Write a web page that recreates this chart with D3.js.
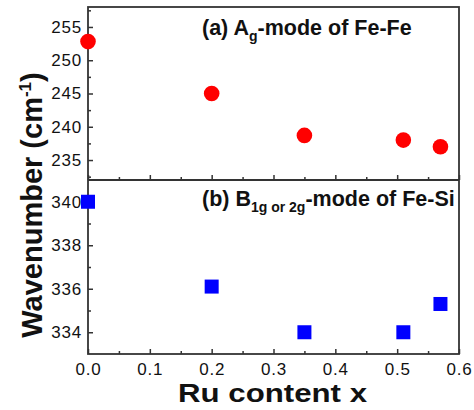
<!DOCTYPE html>
<html><head><meta charset="utf-8">
<script src="https://cdn.jsdelivr.net/npm/d3@7/dist/d3.min.js"></script>
<style>body{margin:0;background:#fff}svg{display:block}text{font-family:"Liberation Sans",Arial,sans-serif;fill:#111}</style>
</head><body><svg id="c" width="474" height="410"></svg>
<script>
const ruContent = [0.0, 0.2, 0.35, 0.51, 0.57];
const agFeFe = [252.8, 245.0, 238.7, 238.0, 237.0];
const bFeSi = [340.0, 336.1, 334.0, 334.0, 335.3];
const xTicks = [0.0, 0.1, 0.2, 0.3, 0.4, 0.5, 0.6];
const topTicks = [235, 240, 245, 250, 255];
const botTicks = [334, 336, 338, 340];

const svg = d3.select("#c");
const L = 88, R = 459, T = 7, M = 180, B = 354;
const axisColor = "#333";
const x = d3.scaleLinear().domain([0, 0.6]).range([L, R]);
const yTop = d3.scaleLinear().domain([232, 258]).range([M, T]);
const yBot = d3.scaleLinear().domain([333, 341]).range([B, M]);

function styleAxis(g){
  g.selectAll("path,line").attr("stroke", axisColor).attr("stroke-width", 1.5);
  g.selectAll("text").style("font-size","17px").style("letter-spacing","0.8px").attr("fill","#111");
}
// frame
svg.append("rect").attr("x",L).attr("y",T).attr("width",R-L).attr("height",B-T)
  .attr("fill","none").attr("stroke",axisColor).attr("stroke-width",1.8);
svg.append("line").attr("x1",L).attr("x2",R).attr("y1",M).attr("y2",M)
  .attr("stroke",axisColor).attr("stroke-width",1.8);

// x axis bottom
const xMinor = [0.05, 0.15, 0.25, 0.35, 0.45, 0.55];
svg.append("g").attr("transform",`translate(0,${B})`)
  .call(d3.axisBottom(x).tickValues(xMinor).tickSize(-3).tickFormat("")).call(styleAxis);
svg.append("g").attr("transform",`translate(0,${B})`)
  .call(d3.axisBottom(x).tickValues(xTicks).tickSize(-5).tickPadding(9).tickFormat(d3.format(".1f"))).call(styleAxis);
// x axis at mid (top panel bottom)
svg.append("g").attr("transform",`translate(0,${M})`)
  .call(d3.axisBottom(x).tickValues(xMinor).tickSize(-3).tickFormat("")).call(styleAxis);
svg.append("g").attr("transform",`translate(0,${M})`)
  .call(d3.axisBottom(x).tickValues(xTicks).tickSize(-5).tickFormat("")).call(styleAxis);

// y axes
svg.append("g").attr("transform",`translate(${L},0)`)
  .call(d3.axisLeft(yTop).tickValues([232.5, 237.5, 242.5, 247.5, 252.5, 257.5]).tickSize(-3).tickFormat("")).call(styleAxis);
svg.append("g").attr("transform",`translate(${L},0)`)
  .call(d3.axisLeft(yTop).tickValues(topTicks).tickSize(-5).tickPadding(6)).call(styleAxis);
svg.append("g").attr("transform",`translate(${L},0)`)
  .call(d3.axisLeft(yBot).tickValues([335,337,339]).tickSize(-3).tickFormat("")).call(styleAxis);
svg.append("g").attr("transform",`translate(${L},0)`)
  .call(d3.axisLeft(yBot).tickValues(botTicks).tickSize(-5).tickPadding(6)).call(styleAxis);
svg.selectAll(".domain").remove();

// points
svg.append("g").selectAll("circle").data(ruContent).join("circle")
  .attr("cx", d=>x(d)).attr("cy",(d,i)=>yTop(agFeFe[i])).attr("r",7.8).attr("fill","#ff0000");
const s = 14;
svg.append("g").selectAll("rect").data(ruContent).join("rect")
  .attr("x", d=>x(d)-s/2).attr("y",(d,i)=>yBot(bFeSi[i])-s/2).attr("width",s).attr("height",s).attr("fill","#0000ff");

// panel labels
const la = svg.append("text").attr("x",202).attr("y",35).style("font-size","21.5px").style("font-weight","bold");
la.append("tspan").text("(a) A");
la.append("tspan").attr("dy",6).style("font-size","14px").text("g");
la.append("tspan").attr("dy",-6).text("-mode of Fe-Fe");
const lb = svg.append("text").attr("x",202).attr("y",206).style("font-size","21.5px").style("font-weight","bold");
lb.append("tspan").text("(b) B");
lb.append("tspan").attr("dy",6).style("font-size","14px").text("1g or 2g");
lb.append("tspan").attr("dy",-6).text("-mode of Fe-Si");

// axis titles
const yt = svg.append("text").attr("transform","translate(42,205) rotate(-90)").attr("text-anchor","middle")
  .style("font-size","29px").style("font-weight","bold");
yt.append("tspan").text("Wavenumber (cm");
yt.append("tspan").attr("dy",-11).style("font-size","17px").text("-1");
yt.append("tspan").attr("dy",11).text(")");
svg.append("text").attr("x",272.5).attr("y",402).attr("text-anchor","middle")
  .attr("textLength",189).attr("lengthAdjust","spacingAndGlyphs")
  .style("font-size","25px").style("font-weight","bold").text("Ru content x");
</script></body></html>
